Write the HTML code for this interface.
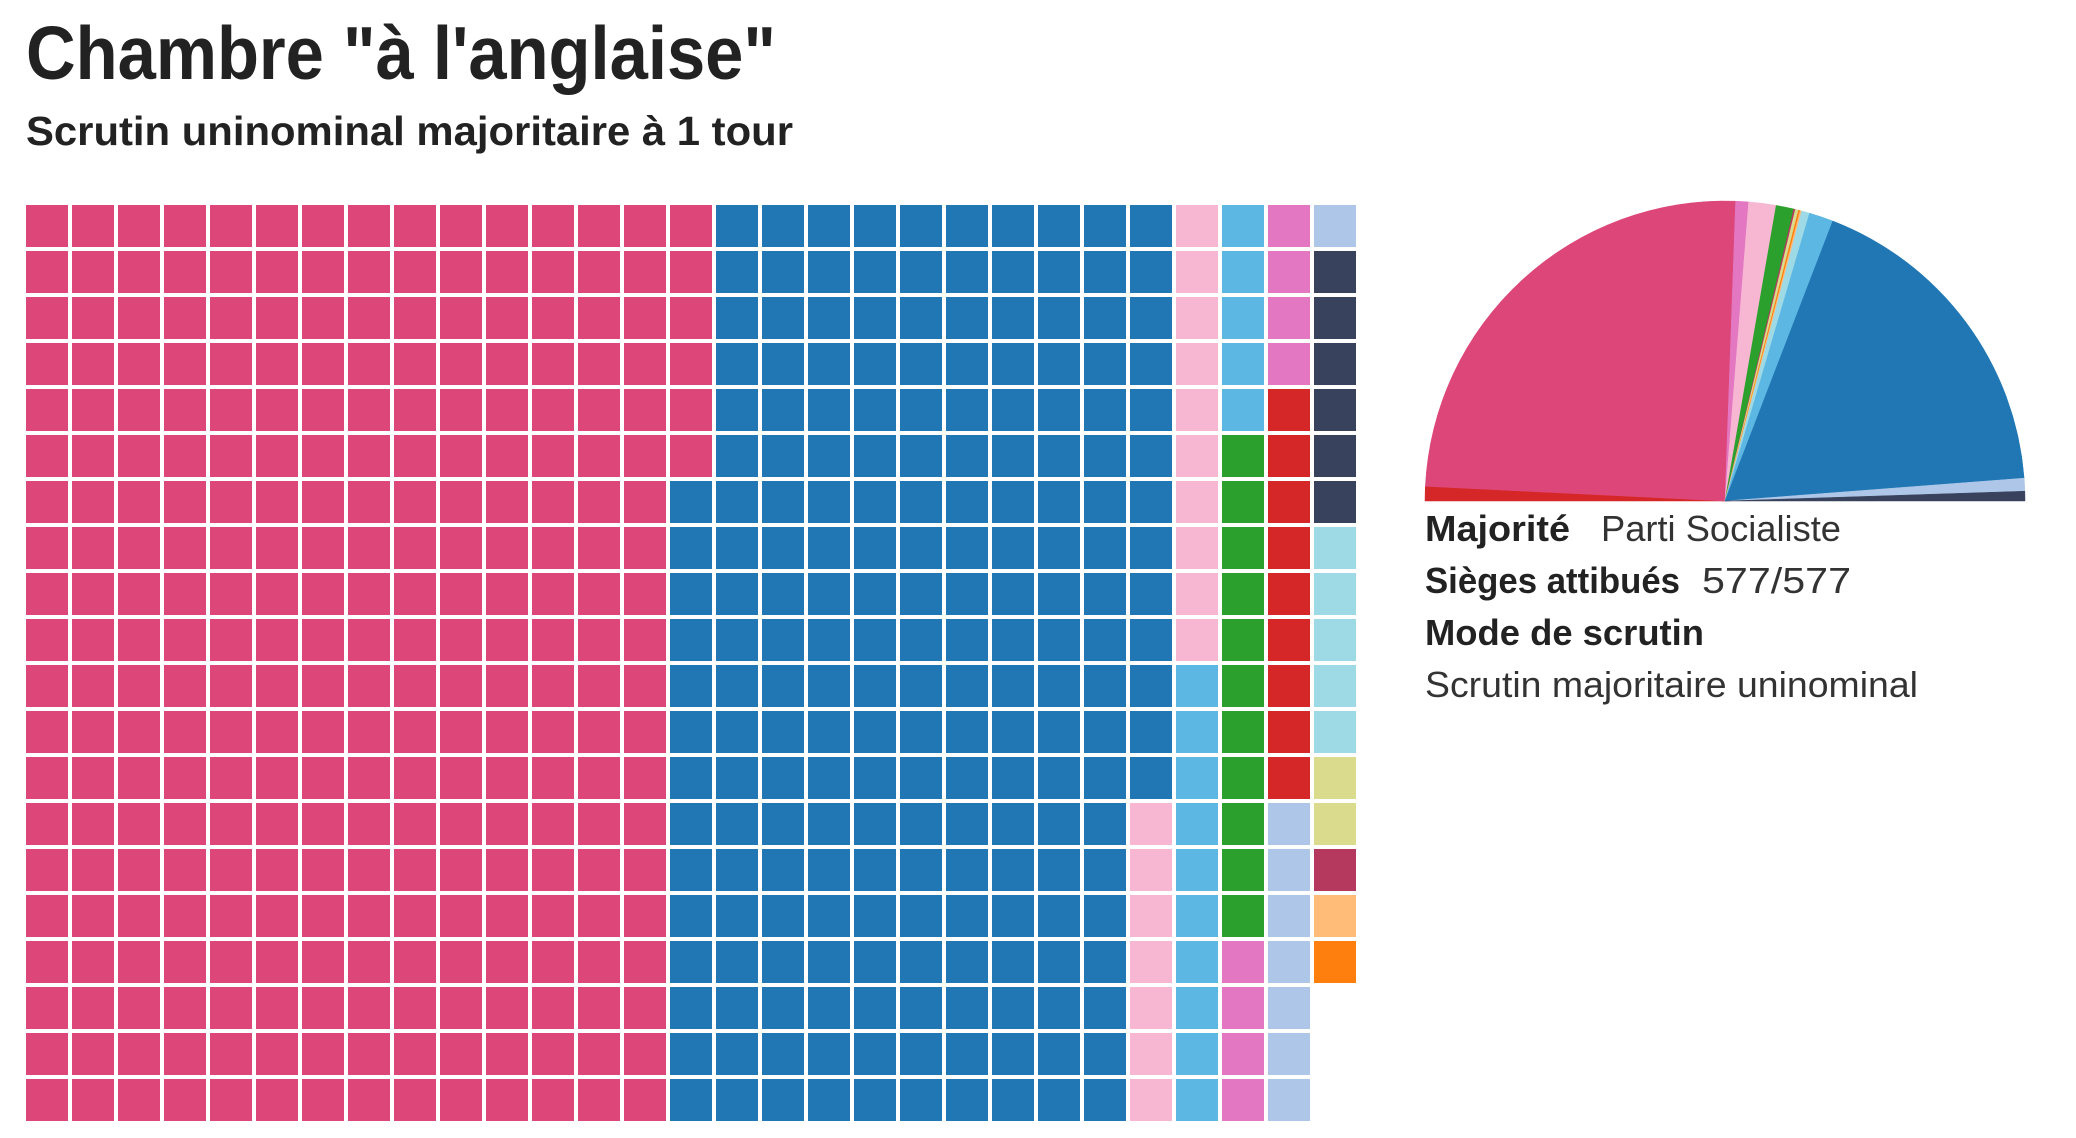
<!DOCTYPE html>
<html><head><meta charset="utf-8"><style>
html,body{margin:0;padding:0;background:#fff;width:2076px;height:1138px;overflow:hidden}
svg text{font-family:"Liberation Sans","DejaVu Sans",sans-serif}
</style></head><body>
<svg id="chart" width="2076" height="1138" viewBox="0 0 2076 1138" xmlns="http://www.w3.org/2000/svg">
<text x="26" y="79" font-size="75" font-weight="bold" fill="#222" textLength="750" lengthAdjust="spacingAndGlyphs">Chambre "à l'anglaise"</text>
<text x="26" y="145" font-size="41" font-weight="bold" fill="#222" textLength="767" lengthAdjust="spacingAndGlyphs">Scrutin uninominal majoritaire à 1 tour</text>
<g id="waffle"></g>
<g id="pie"></g>
<g>
<text x="1425" y="541" font-size="36" font-weight="bold" fill="#222" textLength="145" lengthAdjust="spacingAndGlyphs">Majorité</text>
<text x="1601" y="541" font-size="36" fill="#333" textLength="240" lengthAdjust="spacingAndGlyphs">Parti Socialiste</text>
<text x="1425" y="593" font-size="36" font-weight="bold" fill="#222" textLength="255" lengthAdjust="spacingAndGlyphs">Sièges attibués</text>
<text x="1702" y="593" font-size="36" fill="#333" textLength="149" lengthAdjust="spacingAndGlyphs">577/577</text>
<text x="1425" y="645" font-size="36" font-weight="bold" fill="#222" textLength="279" lengthAdjust="spacingAndGlyphs">Mode de scrutin</text>
<text x="1425" y="697" font-size="36" fill="#333" textLength="493" lengthAdjust="spacingAndGlyphs">Scrutin majoritaire uninominal</text>
</g>
</svg>
<script>
// Waffle order
const parties = ["PS","LR","DVG","UDI","EELV","PRG","FG","DVD","FN","MoDem","Régionalistes","Divers","EXD","Autres"];
const seats = [286,207,17,15,11,8,9,8,6,5,2,1,1,1];
const colors = ["#dc4678","#2077b4","#f7b6d2","#5db7e3","#2ca02c","#e377c2","#d62728","#aec7e8","#38425c","#9edae5","#dbdb8d","#b5395f","#ffbb78","#ff7f0e"];
// Pie order (left to right)
const pieOrder = ["FG","PS","PRG","DVG","EELV","Divers","Régionalistes","Autres","EXD","MoDem","UDI","LR","DVD","FN"];

const NS = "http://www.w3.org/2000/svg";
const rows = 20, x0 = 26, y0 = 205, pitch = 46.0, cell = 42.0;
const colX = c => x0 + c * pitch;
const rowY = r => y0 + r * pitch;
const wg = document.getElementById('waffle');
let idx = 0;
seats.forEach((n, p) => {
  for (let k = 0; k < n; k++) {
    const c = Math.floor(idx / rows), r = idx % rows;
    const rect = document.createElementNS(NS, 'rect');
    rect.setAttribute('x', colX(c)); rect.setAttribute('y', rowY(r));
    rect.setAttribute('width', cell); rect.setAttribute('height', cell);
    rect.setAttribute('fill', colors[p]);
    
    
    wg.appendChild(rect);
    idx++;
  }
});

const total = seats.reduce((a, b) => a + b, 0);
const cx = 1725, cy = 501, R = 300;
const angle = v => Math.PI - (v / total) * Math.PI;
const pg = document.getElementById('pie');
let acc = 0;
pieOrder.forEach(name => {
  const p = parties.indexOf(name);
  const a1 = angle(acc), a2 = angle(acc + seats[p]);
  acc += seats[p];
  const x1 = cx + R * Math.cos(a1), y1 = cy - R * Math.sin(a1);
  const x2 = cx + R * Math.cos(a2), y2 = cy - R * Math.sin(a2);
  const path = document.createElementNS(NS, 'path');
  path.setAttribute('d', `M${cx},${cy} L${x1},${y1} A${R},${R} 0 0 1 ${x2},${y2} Z`);
  path.setAttribute('fill', colors[p]);
  path.setAttribute('stroke', colors[p]);
  path.setAttribute('stroke-width', '0.5');
  
  
  pg.appendChild(path);
});
</script>
</body></html>
